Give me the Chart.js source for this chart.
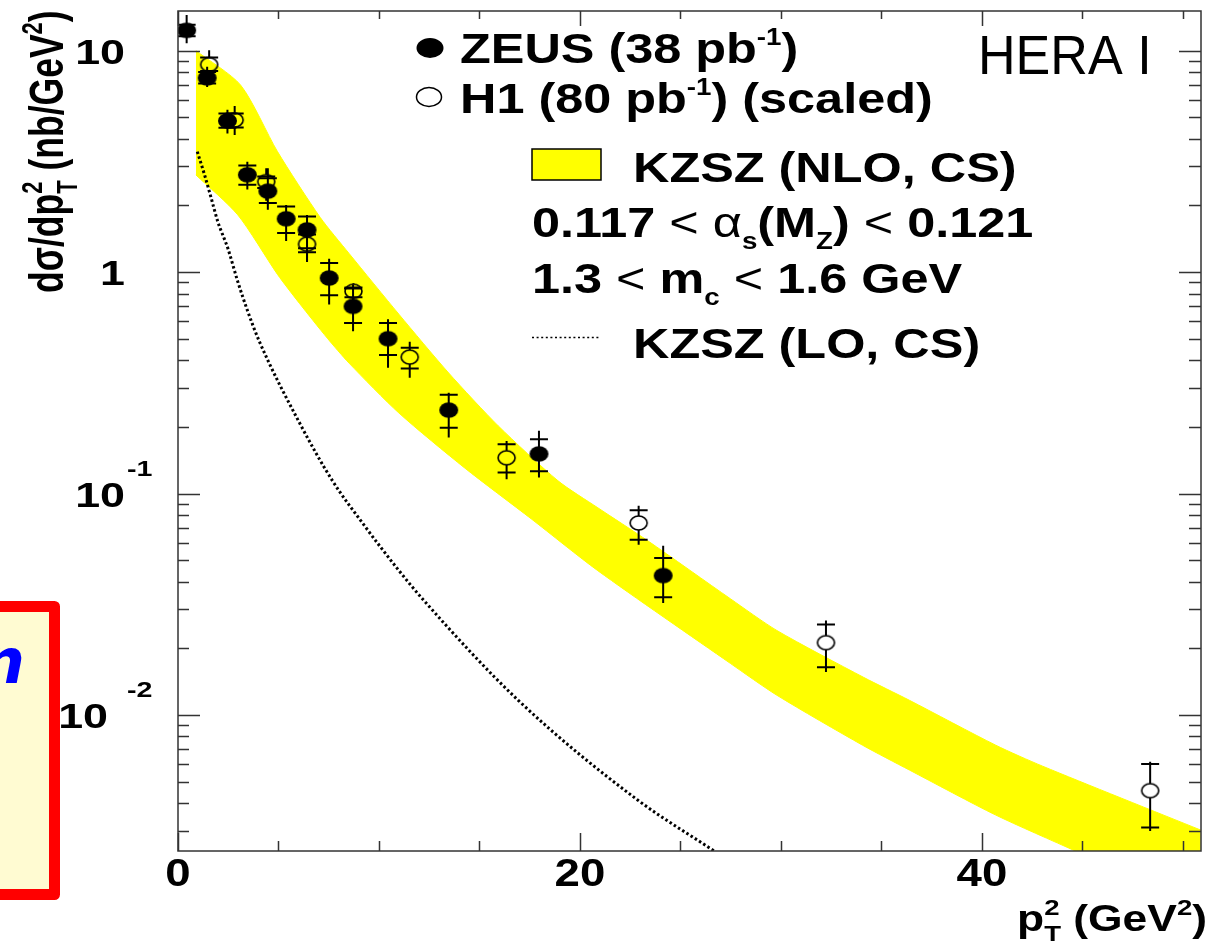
<!DOCTYPE html>
<html>
<head>
<meta charset="utf-8">
<script src="https://cdn.jsdelivr.net/npm/chart.js@4.4.1/dist/chart.umd.min.js"></script>
<style>
  html, body { margin: 0; padding: 0; background: #fff; }
  canvas { display: block; }
</style>
</head>
<body>
<canvas id="ptChart" width="1212" height="942"></canvas>
<script>
// ZEUS (38 pb-1), filled points
const zeusX      = [0.43, 1.45, 2.46, 3.45, 4.47, 5.38, 6.42, 7.52, 8.71, 10.45, 13.47, 17.96, 24.14];
const zeusY      = [12.35, 7.53, 4.82, 2.75, 2.32, 1.74, 1.55, 0.94, 0.70, 0.50, 0.238, 0.151, 0.0426];
const zeusStatLo = [11.6, 7.1, 4.49, 2.48, 2.05, 1.50, 1.28, 0.785, 0.589, 0.422, 0.198, 0.126, 0.034];
const zeusStatHi = [13.1, 8.0, 5.20, 3.03, 2.65, 1.98, 1.78, 1.10, 0.843, 0.589, 0.279, 0.176, 0.0512];
const zeusTotLo  = [10.8, 6.86, 4.22, 2.36, 1.91, 1.38, 1.11, 0.713, 0.541, 0.370, 0.179, 0.118, 0.032];
const zeusTotHi  = [14.5, 8.45, 5.41, 3.15, 2.94, 2.01, 1.81, 1.15, 0.879, 0.612, 0.285, 0.192, 0.0581];

// H1 (80 pb-1) (scaled), open points
const h1X      = [1.55, 2.82, 4.39, 6.42, 8.73, 11.53, 16.35, 22.92, 32.24, 48.37];
const h1Y      = [8.65, 4.86, 2.56, 1.337, 0.819, 0.413, 0.145, 0.0736, 0.0212, 0.00455];
const h1StatLo = [8.1, 4.5, 2.40, 1.23, 0.77, 0.367, 0.1245, 0.0618, 0.01643, 0.0031];
const h1StatHi = [9.3, 5.2, 2.70, 1.479, 0.852, 0.455, 0.167, 0.0841, 0.0256, 0.0060];
const h1TotLo  = [7.5, 4.16, 2.1, 1.117, 0.72, 0.333, 0.116, 0.0587, 0.01563, 0.00299];
const h1TotHi  = [10.04, 5.62, 2.94, 1.55, 0.891, 0.484, 0.1727, 0.088, 0.0267, 0.00614];

// KZSZ (NLO, CS) band edges
const bandUpX = [0.89, 3.12, 4.95, 7.08, 8.51, 10.99, 13.47, 15.94, 18.91, 20.89, 23.37, 27.48, 29.80, 34.11, 36.39, 40.69, 43.02, 50.89];
const bandUpY = [10.0, 6.98, 3.50, 1.763, 1.214, 0.645, 0.350, 0.2018, 0.1141, 0.0862, 0.0612, 0.0335, 0.02406, 0.01479, 0.01165, 0.0073, 0.00587, 0.00302];
const bandLoX = [0.89, 2.97, 4.95, 6.04, 7.43, 8.51, 10.99, 14.26, 17.57, 20.89, 27.48, 29.80, 34.06, 36.39, 40.69, 44.65, 50.89];
const bandLoY = [2.746, 1.814, 0.976, 0.7228, 0.5027, 0.388, 0.231, 0.1305, 0.0769, 0.0448, 0.0171, 0.01227, 0.0073, 0.00564, 0.00353, 0.00243, 0.001347];

// KZSZ (LO, CS) dotted curve
const loX = [0.96, 1.32, 1.65, 1.98, 2.48, 2.97, 3.47, 4.04, 6.04, 7.69, 9.34, 10.99, 12.23, 16.93, 22.87, 26.68];
const loY = [3.50, 2.75, 2.16, 1.69, 1.28, 0.908, 0.665, 0.488, 0.209, 0.114, 0.0703, 0.0449, 0.0329, 0.01164, 0.00413, 0.00243];

// axis ticks
const xTickVals = [0, 20, 40];
const xTickLabels = ['0', '20', '40'];
const yTickVals = [10, 1, 0.1, 0.01];
const yTickBase = ['10', '1', '10', '10'];
const yTickExp = ['', '', '-1', '-2'];

const FAM = '"Liberation Sans", Arial, Helvetica, sans-serif';

function pts(xs, ys) {
  return xs.map((x, i) => ({ x: x, y: ys[i] }));
}

function ellipseMarker(rx, ry, filled) {
  const c = document.createElement('canvas');
  c.width = Math.ceil(2 * rx + 4);
  c.height = Math.ceil(2 * ry + 4);
  const g = c.getContext('2d');
  g.beginPath();
  g.ellipse(c.width / 2, c.height / 2, rx, ry, 0, 0, 2 * Math.PI);
  if (filled) {
    g.fillStyle = '#000';
    g.fill();
  } else {
    g.lineWidth = 1.6;
    g.strokeStyle = '#000';
    g.stroke();
  }
  return c;
}

// text with sub/superscripts; strings are bold, {t} normal weight
function rich(ctx, x, y, parts, size, opt) {
  opt = opt || {};
  const sx = opt.sx || 1, sy = opt.sy || 1, align = opt.align || 'left';
  const ss = opt.ss || 0.6;
  const items = parts.map(p => {
    let segs = [];
    if (typeof p === 'string') segs.push({ t: p, dy: 0, s: size, w: 'bold' });
    else if (p.t) segs.push({ t: p.t, dy: 0, s: size, w: p.w || 'normal' });
    else {
      if (p.sub) segs.push({ t: p.sub, dy: size * 0.28, s: size * ss, w: 'bold' });
      if (p.sup) segs.push({ t: p.sup, dy: -size * 0.42, s: size * ss, w: 'bold' });
    }
    let w = 0;
    segs.forEach(s => {
      ctx.font = s.w + ' ' + s.s + 'px ' + FAM;
      w = Math.max(w, ctx.measureText(s.t).width);
    });
    return { segs: segs, w: w };
  });
  const total = items.reduce((a, it) => a + it.w, 0);
  ctx.save();
  ctx.translate(x, y);
  ctx.scale(sx, sy);
  ctx.textAlign = 'left';
  ctx.textBaseline = 'alphabetic';
  ctx.fillStyle = '#000';
  let cx = align === 'right' ? -total : align === 'center' ? -total / 2 : 0;
  items.forEach(it => {
    it.segs.forEach(s => {
      ctx.font = s.w + ' ' + s.s + 'px ' + FAM;
      ctx.fillText(s.t, cx, s.dy);
    });
    cx += it.w;
  });
  ctx.restore();
}

function errorBars(chart, X, Y, sLo, sHi, tLo, tHi, gap) {
  const ctx = chart.ctx, xs = chart.scales.x, ys = chart.scales.y, a = chart.chartArea;
  ctx.save();
  ctx.beginPath();
  ctx.rect(a.left, a.top, a.right - a.left, a.bottom - a.top);
  ctx.clip();
  ctx.strokeStyle = '#000';
  ctx.lineWidth = 2;
  ctx.beginPath();
  X.forEach((xv, i) => {
    const px = xs.getPixelForValue(xv);
    const py = ys.getPixelForValue(Y[i]);
    const top = ys.getPixelForValue(tHi[i]);
    const bot = ys.getPixelForValue(tLo[i]);
    if (gap) {
      if (top < py - gap) { ctx.moveTo(px, top); ctx.lineTo(px, py - gap); }
      if (bot > py + gap) { ctx.moveTo(px, py + gap); ctx.lineTo(px, bot); }
    } else {
      ctx.moveTo(px, top); ctx.lineTo(px, bot);
    }
    [sHi[i], sLo[i]].forEach(v => {
      const q = ys.getPixelForValue(v);
      ctx.moveTo(px - 9, q); ctx.lineTo(px + 9, q);
    });
  });
  ctx.stroke();
  ctx.restore();
}

const decorations = {
  id: 'decorations',
  beforeDatasetDraw(chart, args) {
    const label = chart.data.datasets[args.index].label;
    if (label === 'ZEUS') errorBars(chart, zeusX, zeusY, zeusStatLo, zeusStatHi, zeusTotLo, zeusTotHi, 0);
    if (label === 'H1') errorBars(chart, h1X, h1Y, h1StatLo, h1StatHi, h1TotLo, h1TotHi, 7);
  },
  afterDraw(chart) {
    const ctx = chart.ctx, a = chart.chartArea, xs = chart.scales.x, ys = chart.scales.y;

    // frame and inward ticks
    ctx.save();
    ctx.strokeStyle = '#333';
    ctx.lineWidth = 1.5;
    ctx.strokeRect(a.left, a.top, a.right - a.left, a.bottom - a.top);
    ctx.beginPath();
    for (let v = 0; v <= xs.max; v += 5) {
      const px = Math.round(xs.getPixelForValue(v)) + 0.5;
      const major = v % 20 === 0;
      ctx.moveTo(px, a.bottom); ctx.lineTo(px, a.bottom - (major ? 18 : 10));
      ctx.moveTo(px, a.top); ctx.lineTo(px, a.top + (major ? 15 : 8));
    }
    for (let e = -3; e <= 1; e++) {
      for (let k = 1; k <= 9; k++) {
        const v = k * Math.pow(10, e);
        if (v < ys.min || v > ys.max) continue;
        const py = Math.round(ys.getPixelForValue(v)) + 0.5;
        const major = k === 1;
        ctx.moveTo(a.left, py); ctx.lineTo(a.left + (major ? 22 : 11), py);
        ctx.moveTo(a.right, py); ctx.lineTo(a.right - (major ? 22 : 12), py);
      }
    }
    ctx.stroke();
    ctx.restore();

    // x tick labels
    xTickVals.forEach((v, i) => {
      rich(ctx, xs.getPixelForValue(v), 886, [xTickLabels[i]], 38, { sx: 1.2, align: 'center' });
    });

    // y tick labels
    const baseRight = [125, 125, 125, 108];
    yTickVals.forEach((v, i) => {
      const py = ys.getPixelForValue(v);
      rich(ctx, baseRight[i], py + 13, [yTickBase[i]], 35, { sx: 1.28, align: 'right' });
      if (yTickExp[i]) rich(ctx, 127, py - 18, [yTickExp[i]], 22, { sx: 1.3 });
    });

    // axis titles
    rich(ctx, 1207, 931, ['p', { sub: 'T', sup: '2' }, ' (GeV', { sup: '2' }, ')'], 37, { sx: 1.2, align: 'right', ss: 0.62 });
    ctx.save();
    ctx.translate(63, 293);
    ctx.rotate(-Math.PI / 2);
    rich(ctx, 0, 0, ['d', 'σ', '/dp', { sub: 'T', sup: '2' }, ' (nb/GeV', { sup: '2' }, ')'], 35.5, { sy: 1.38, ss: 0.62 });
    ctx.restore();

    // legend
    ctx.save();
    ctx.fillStyle = '#000';
    ctx.beginPath(); ctx.ellipse(430, 48, 13.5, 10, 0, 0, 2 * Math.PI); ctx.fill();
    ctx.strokeStyle = '#000'; ctx.lineWidth = 1.5;
    ctx.beginPath(); ctx.ellipse(429, 97, 12.5, 9.5, 0, 0, 2 * Math.PI); ctx.stroke();
    ctx.fillStyle = '#ffff00';
    ctx.fillRect(532, 149, 69, 31);
    ctx.strokeRect(532, 149, 69, 31);
    ctx.setLineDash([2, 2.6]);
    ctx.beginPath(); ctx.moveTo(532, 337.5); ctx.lineTo(601, 337.5); ctx.stroke();
    ctx.restore();

    const L = { sx: 1.2, ss: 0.55 };
    rich(ctx, 460, 63, ['ZEUS (38 pb', { sup: '-1' }, ')'], 42, L);
    rich(ctx, 460, 113, ['H1 (80 pb', { sup: '-1' }, ') (scaled)'], 42, L);
    rich(ctx, 633, 182, ['KZSZ (NLO, CS)'], 42, L);
    rich(ctx, 532, 237, ['0.117 ', { t: '<' }, ' ', { t: 'α' }, { sub: 's' }, '(M', { sub: 'Z' }, ') ', { t: '<' }, ' 0.121'], 42, L);
    rich(ctx, 532, 293, ['1.3 ', { t: '<' }, ' m', { sub: 'c' }, ' ', { t: '<' }, ' 1.6 GeV'], 42, L);
    rich(ctx, 633, 358, ['KZSZ (LO, CS)'], 42, L);
    rich(ctx, 978, 74, [{ t: 'HERA I' }], 56, { sx: 0.93 });

    // slide overlay box at the left edge
    ctx.save();
    ctx.fillStyle = '#fffbd2';
    ctx.fillRect(-20, 606, 75, 289);
    ctx.strokeStyle = '#ff0000';
    ctx.lineWidth = 11;
    ctx.lineJoin = 'round';
    ctx.strokeRect(-20, 606.5, 74.5, 288);
    ctx.fillStyle = '#0000ff';
    ctx.font = 'italic 600 62px "DejaVu Sans", sans-serif';
    ctx.textAlign = 'right';
    ctx.fillText('n', 25, 683);
    ctx.restore();
  }
};

const ctx = document.getElementById('ptChart').getContext('2d');
const ptChart = new Chart(ctx, {
  type: 'line',
  data: {
    datasets: [
      {
        label: 'ZEUS',
        data: pts(zeusX, zeusY),
        showLine: false,
        pointStyle: ellipseMarker(9.5, 7.8, true),
        pointRadius: 10,
        order: 1
      },
      {
        label: 'H1',
        data: pts(h1X, h1Y),
        showLine: false,
        pointStyle: ellipseMarker(8.5, 7, false),
        pointRadius: 9,
        order: 2
      },
      {
        label: 'KZSZ LO',
        data: pts(loX, loY),
        borderColor: '#000',
        borderWidth: 3,
        borderDash: [2.5, 2.5],
        pointRadius: 0,
        fill: false,
        cubicInterpolationMode: 'monotone',
        order: 3
      },
      {
        label: 'KZSZ NLO up',
        data: pts(bandUpX, bandUpY),
        borderColor: '#ffff00',
        borderWidth: 1,
        backgroundColor: '#ffff00',
        pointRadius: 0,
        fill: '+1',
        tension: 0.25,
        order: 4
      },
      {
        label: 'KZSZ NLO low',
        data: pts(bandLoX, bandLoY),
        borderColor: '#ffff00',
        borderWidth: 1,
        pointRadius: 0,
        fill: false,
        tension: 0.25,
        order: 5
      }
    ]
  },
  options: {
    responsive: false,
    animation: false,
    events: [],
    layout: { padding: { left: 178, top: 9, right: 6, bottom: 91 } },
    plugins: {
      legend: { display: false },
      tooltip: { enabled: false }
    },
    scales: {
      x: { type: 'linear', min: 0, max: 50.9, display: false },
      y: { type: 'logarithmic', min: 0.00243, max: 15.1, display: false }
    }
  },
  plugins: [decorations]
});
</script>
</body>
</html>
